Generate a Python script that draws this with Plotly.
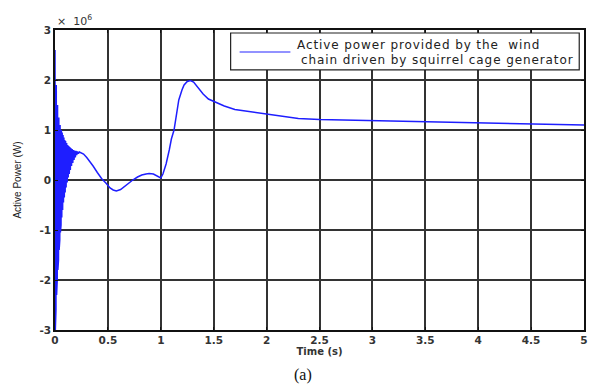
import plotly.graph_objects as go

# Time (s)
time_s = [
    0.000, 0.003, 0.006, 0.009, 0.012, 0.015, 0.018, 0.021, 0.024, 0.027,
    0.030, 0.033, 0.036, 0.039, 0.042, 0.045, 0.048, 0.051, 0.054, 0.057,
    0.060, 0.064, 0.068, 0.072, 0.076, 0.080, 0.084, 0.088, 0.092, 0.096,
    0.100, 0.105, 0.110, 0.115, 0.120, 0.125, 0.130, 0.135, 0.140, 0.145,
    0.150, 0.156, 0.162, 0.168, 0.174, 0.180, 0.186, 0.192, 0.198, 0.205,
    0.212, 0.220, 0.230, 0.245, 0.270, 0.300, 0.330, 0.360, 0.400, 0.440,
    0.485, 0.520, 0.550, 0.580, 0.620, 0.660, 0.700, 0.735, 0.780, 0.820,
    0.860, 0.890, 0.930, 0.960, 0.990, 1.000, 1.020, 1.050, 1.080, 1.100,
    1.125, 1.150, 1.170, 1.200, 1.220, 1.250, 1.280, 1.310, 1.350, 1.400,
    1.450, 1.500, 1.600, 1.700, 1.800, 1.900, 2.000, 2.100, 2.200, 2.300,
    2.500, 2.750, 3.000, 3.250, 3.500, 3.750, 4.000, 4.250, 4.500, 4.750,
    5.000,
]

# Active power (x 10^6 W)
power_mw = [
    2.60, -3.00, 2.20, -2.60, 1.90, -2.30, 1.70, -2.00, 1.50, -1.80,
    1.40, -1.60, 1.25, -1.40, 1.15, -1.20, 1.10, -1.05, 1.05, -0.90,
    1.00, -0.75, 0.95, -0.60, 0.90, -0.45, 0.85, -0.35, 0.80, -0.25,
    0.78, -0.15, 0.74, -0.05, 0.70, 0.05, 0.68, 0.12, 0.66, 0.20,
    0.64, 0.28, 0.62, 0.34, 0.60, 0.40, 0.59, 0.45, 0.58, 0.50,
    0.57, 0.53, 0.56, 0.55, 0.52, 0.45, 0.37, 0.28, 0.15, 0.03,
    -0.07, -0.16, -0.20, -0.22, -0.19, -0.12, -0.05, 0.00, 0.06, 0.10,
    0.12, 0.13, 0.12, 0.09, 0.05, 0.04, 0.12, 0.32, 0.60, 0.82,
    1.00, 1.32, 1.60, 1.80, 1.90, 1.97, 1.99, 1.96, 1.86, 1.72,
    1.62, 1.57, 1.48, 1.41, 1.38, 1.35, 1.33, 1.30, 1.26, 1.23,
    1.21, 1.20, 1.19, 1.18, 1.17, 1.16, 1.15, 1.14, 1.13, 1.12,
    1.10,
]

x_ticks = [0, 0.5, 1, 1.5, 2, 2.5, 3, 3.5, 4, 4.5, 5]
x_tick_labels = ["0", "0.5", "1", "1.5", "2", "2.5", "3", "3.5", "4", "4.5", "5"]
y_ticks = [-3, -2, -1, 0, 1, 2, 3]
y_tick_labels = ["-3", "-2", "-1", "0", "1", "2", "3"]

legend_line1 = "Active power provided by the  wind"
legend_line2 = "chain driven by squirrel cage generator"

LINE_COLOR = "rgb(30,30,255)"

fig = go.Figure()
fig.add_trace(go.Scatter(
    x=time_s, y=power_mw, mode="lines", name=legend_line1 + " " + legend_line2,
    line=dict(color=LINE_COLOR, width=1.5),
    showlegend=False,
))

tick_font = dict(family="DejaVu Sans", size=10.5, color="#333", weight="bold")

axis_common = dict(
    showline=True, linecolor="#111", linewidth=1.5, mirror="ticks",
    ticks="inside", ticklen=3, tickcolor="#111",
    showgrid=True, gridcolor="#333", gridwidth=1.5,
    zeroline=False,
    tickfont=tick_font,
)

# legend drawn as a boxed key (paper coordinates of the plot area)
shapes = [
    dict(type="rect", xref="paper", yref="paper", x0=0.332, x1=0.991, y0=0.867, y1=0.99,
         line=dict(color="#222", width=1.2), fillcolor="white", layer="above"),
    dict(type="line", xref="paper", yref="paper", x0=0.349, x1=0.445, y0=0.927, y1=0.927,
         line=dict(color="rgb(110,110,255)", width=1.5), layer="above"),
]

def spaced(text):
    return '<span style="letter-spacing:0.9px">' + text + '</span>'

fig.update_layout(
    width=594, height=388,
    margin=dict(l=55, r=6, t=30, b=58),
    paper_bgcolor="white", plot_bgcolor="white",
    xaxis=dict(range=[0, 5], tickvals=x_ticks, ticktext=x_tick_labels,
               title=dict(text="Time (s)", font=dict(family="DejaVu Sans", size=10, color="#333", weight="bold"), standoff=3),
               **axis_common),
    yaxis=dict(range=[-3, 3], tickvals=y_ticks, ticktext=y_tick_labels,
               title=dict(text="Active Power (W)", font=dict(family="Liberation Sans", size=10, color="#222"), standoff=16),
               **axis_common),
    showlegend=False,
    shapes=shapes,
    annotations=[
        dict(text="×  10<sup>6</sup>", xref="paper", yref="paper", x=0.0, y=1.0,
             xanchor="left", yanchor="bottom", showarrow=False,
             font=dict(family="DejaVu Sans", size=11, color="#333")),
        dict(text=spaced(legend_line1), xref="paper", yref="paper", x=0.453, y=0.95,
             xanchor="left", yanchor="middle", showarrow=False,
             font=dict(family="DejaVu Sans", size=12, color="#222")),
        dict(text=spaced(legend_line2), xref="paper", yref="paper", x=0.461, y=0.90,
             xanchor="left", yanchor="middle", showarrow=False,
             font=dict(family="DejaVu Sans", size=12, color="#222")),
        dict(text="(a)", xref="paper", yref="paper", x=0.468, y=-0.15,
             xanchor="center", yanchor="middle", showarrow=False,
             font=dict(family="Liberation Serif", size=16, color="#111")),
    ],
)

fig.write_html("out.html")
